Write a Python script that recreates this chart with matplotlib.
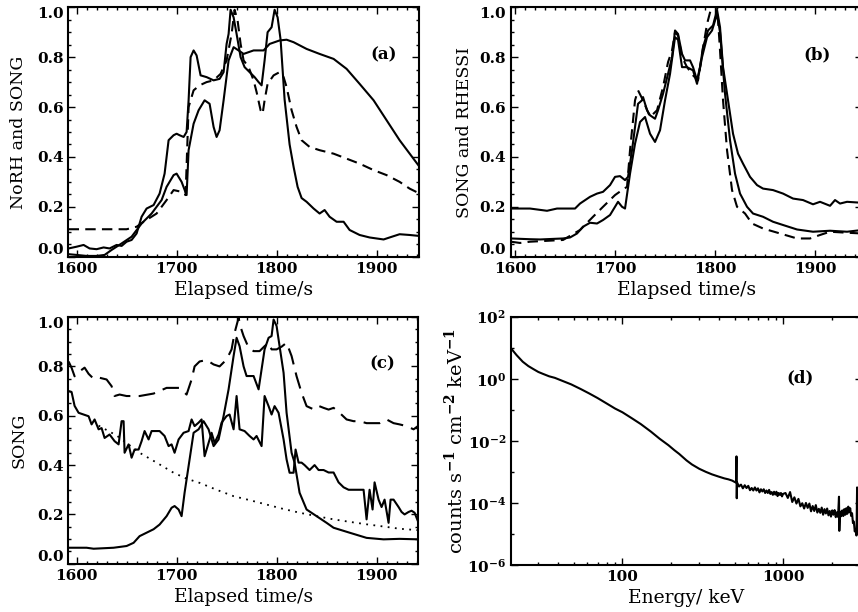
import matplotlib
matplotlib.use("Agg")
import matplotlib.pyplot as plt
from matplotlib.ticker import MultipleLocator, FixedLocator, NullFormatter
import numpy as np

plt.rcParams['font.family'] = ['DejaVu Serif']
plt.rcParams['font.weight'] = 'bold'
plt.rcParams['font.size'] = 11
plt.rcParams['mathtext.fontset'] = 'dejavuserif'
plt.rcParams['mathtext.default'] = 'bf'

# ---------------- panel (a): NoRH and SONG ----------------
a_jag_t = [1592, 1600, 1607, 1613, 1620, 1627, 1633, 1640, 1645, 1650, 1655, 1660, 1665, 1670,
           1677, 1683, 1688, 1692, 1697, 1700, 1703, 1707, 1710, 1712, 1714, 1717, 1720, 1724,
           1730, 1737, 1743, 1747, 1750, 1752, 1754, 1757, 1760, 1764, 1768, 1773, 1778, 1782,
           1785, 1788, 1791, 1795, 1798, 1801, 1804, 1808, 1813, 1817, 1821, 1825, 1830, 1837,
           1843, 1848, 1853, 1860, 1867, 1873, 1883, 1893, 1900, 1907, 1913, 1923, 1933, 1943]
a_jag_v = [0.033, 0.04, 0.047, 0.033, 0.03, 0.037, 0.033, 0.047, 0.043, 0.06, 0.067, 0.093, 0.16,
           0.193, 0.207, 0.253, 0.333, 0.467, 0.487, 0.493, 0.487, 0.48, 0.5, 0.627, 0.8, 0.827,
           0.807, 0.727, 0.72, 0.707, 0.713, 0.74, 0.853, 0.893, 0.99, 0.96, 0.893, 0.8, 0.76,
           0.74, 0.72, 0.70, 0.687, 0.787, 0.9, 0.92, 0.99, 0.96, 0.87, 0.63, 0.45, 0.36, 0.28,
           0.235, 0.22, 0.193, 0.173, 0.187, 0.16, 0.14, 0.14, 0.107, 0.087, 0.077, 0.073, 0.069,
           0.077, 0.09, 0.087, 0.083]

a_smo_t = [1592, 1600, 1610, 1620, 1628, 1635, 1645, 1655, 1665, 1675, 1685, 1690, 1697, 1700,
           1705, 1710, 1712, 1717, 1722, 1728, 1733, 1737, 1740, 1743, 1747, 1752, 1757, 1762,
           1767, 1777, 1787, 1793, 1803, 1810, 1817, 1830, 1843, 1857, 1870, 1883, 1897, 1910,
           1923, 1943]
a_smo_v = [0.01, 0.007, 0.003, 0.003, 0.007, 0.027, 0.053, 0.08, 0.133, 0.173, 0.227, 0.28,
           0.327, 0.333, 0.30, 0.247, 0.427, 0.533, 0.587, 0.627, 0.613, 0.52, 0.48, 0.507,
           0.627, 0.787, 0.84, 0.827, 0.813, 0.827, 0.827, 0.853, 0.867, 0.87, 0.86, 0.833,
           0.813, 0.793, 0.753, 0.693, 0.627, 0.547, 0.467, 0.36]

a_das_t = [1592, 1610, 1630, 1650, 1660, 1667, 1680, 1690, 1697, 1705, 1709, 1712, 1717, 1723,
           1730, 1737, 1744, 1750, 1755, 1758, 1761, 1764, 1767, 1772, 1777, 1780, 1784, 1786,
           1788, 1791, 1797, 1803, 1807, 1810, 1815, 1820, 1825, 1833, 1843, 1857, 1870, 1883,
           1897, 1910, 1923, 1933, 1943]
a_das_v = [0.11, 0.11, 0.11, 0.11, 0.12, 0.14, 0.173, 0.227, 0.267, 0.26, 0.247, 0.6, 0.667,
           0.687, 0.70, 0.707, 0.733, 0.787, 0.893, 0.99, 0.947, 0.853, 0.787, 0.76, 0.707, 0.66,
           0.587, 0.573, 0.627, 0.693, 0.727, 0.74, 0.72, 0.68, 0.587, 0.52, 0.467, 0.44, 0.427,
           0.413, 0.393, 0.373, 0.347, 0.327, 0.30, 0.273, 0.253]

# ---------------- panel (b): SONG and RHESSI ----------------
b_up_t = [1596, 1615, 1632, 1642, 1660, 1665, 1675, 1682, 1688, 1695, 1700, 1705, 1710, 1713,
          1717, 1720, 1723, 1727, 1728, 1732, 1735, 1740, 1743, 1748, 1753, 1757, 1760, 1763,
          1767, 1770, 1775, 1778, 1782, 1785, 1788, 1793, 1798, 1802, 1805, 1808, 1813, 1818,
          1823, 1828, 1835, 1842, 1848, 1858, 1868, 1878, 1888, 1898, 1905, 1915, 1920, 1925,
          1932, 1947]
b_up_v = [0.193, 0.193, 0.184, 0.193, 0.193, 0.213, 0.24, 0.253, 0.26, 0.287, 0.32, 0.323,
          0.307, 0.32, 0.427, 0.52, 0.613, 0.627, 0.64, 0.587, 0.567, 0.553, 0.587, 0.653,
          0.733, 0.80, 0.907, 0.893, 0.813, 0.787, 0.787, 0.76, 0.707, 0.76, 0.84, 0.907,
          0.927, 0.99, 0.92, 0.76, 0.627, 0.493, 0.413, 0.373, 0.32, 0.287, 0.273, 0.267,
          0.253, 0.233, 0.227, 0.21, 0.22, 0.204, 0.227, 0.213, 0.22, 0.216]

b_lo_t = [1596, 1615, 1625, 1648, 1655, 1662, 1668, 1675, 1682, 1688, 1695, 1700, 1703, 1707,
          1710, 1715, 1720, 1725, 1730, 1735, 1740, 1745, 1750, 1755, 1760, 1763, 1767, 1772,
          1778, 1782, 1787, 1792, 1797, 1802, 1805, 1810, 1815, 1820, 1825, 1832, 1838, 1848,
          1858, 1868, 1882, 1898, 1915, 1932, 1947]
b_lo_v = [0.073, 0.07, 0.069, 0.073, 0.077, 0.093, 0.12, 0.136, 0.133, 0.147, 0.167, 0.2, 0.22,
          0.2, 0.193, 0.333, 0.453, 0.54, 0.56, 0.493, 0.46, 0.507, 0.627, 0.733, 0.88, 0.87,
          0.76, 0.76, 0.747, 0.693, 0.80, 0.88, 0.907, 0.973, 0.9, 0.653, 0.467, 0.333, 0.253,
          0.2, 0.173, 0.16, 0.14, 0.127, 0.109, 0.1, 0.104, 0.1, 0.107]

b_das_t = [1596, 1605, 1615, 1648, 1665, 1678, 1688, 1700, 1707, 1712, 1715, 1720, 1723, 1728,
           1735, 1742, 1748, 1753, 1757, 1760, 1763, 1767, 1772, 1778, 1783, 1787, 1792, 1797,
           1802, 1805, 1808, 1812, 1817, 1822, 1830, 1837, 1848, 1865, 1882, 1895, 1905, 1915,
           1932, 1947]
b_das_v = [0.06, 0.055, 0.06, 0.067, 0.107, 0.16, 0.2, 0.247, 0.267, 0.28, 0.427, 0.627, 0.667,
           0.627, 0.56, 0.587, 0.68, 0.78, 0.827, 0.9, 0.887, 0.80, 0.76, 0.727, 0.707, 0.813,
           0.933, 1.01, 1.01, 0.827, 0.627, 0.427, 0.267, 0.2, 0.173, 0.133, 0.113, 0.093, 0.073,
           0.073, 0.087, 0.1, 0.096, 0.093]

# ---------------- panel (c): SONG ----------------
c_das_t = [1592, 1595, 1598, 1603, 1608, 1612, 1617, 1623, 1630, 1635, 1638, 1643, 1650, 1663,
           1677, 1690, 1703, 1710, 1715, 1718, 1723, 1730, 1737, 1743, 1750, 1755, 1758, 1762,
           1764, 1767, 1772, 1777, 1783, 1788, 1792, 1795, 1800, 1805, 1810, 1815, 1820, 1825,
           1830, 1837, 1842, 1847, 1852, 1857, 1863, 1870, 1877, 1883, 1890, 1903, 1910, 1917,
           1923, 1930, 1937, 1942]
c_das_v = [0.82, 0.794, 0.76, 0.78, 0.795, 0.77, 0.75, 0.754, 0.747, 0.72, 0.68, 0.686, 0.68,
           0.68, 0.69, 0.713, 0.713, 0.686, 0.747, 0.80, 0.82, 0.826, 0.808, 0.80, 0.828, 0.869,
           0.936, 0.997, 0.96, 0.923, 0.876, 0.862, 0.862, 0.882, 0.896, 0.869, 0.869, 0.88,
           0.896, 0.842, 0.76, 0.693, 0.639, 0.626, 0.64, 0.632, 0.625, 0.632, 0.612, 0.585,
           0.578, 0.578, 0.57, 0.57, 0.585, 0.57, 0.565, 0.558, 0.545, 0.56]

c_noi_t = [1592, 1595, 1598, 1602, 1607, 1612, 1615, 1618, 1622, 1625, 1628, 1633, 1638, 1642,
           1645, 1647, 1648, 1652, 1655, 1658, 1662, 1665, 1668, 1672, 1675, 1683, 1688, 1692,
           1695, 1698, 1702, 1707, 1712, 1715, 1718, 1722, 1725, 1728, 1732, 1735, 1738, 1742,
           1745, 1750, 1753, 1757, 1760, 1763, 1768, 1773, 1777, 1780, 1785, 1788, 1792, 1795,
           1798, 1802, 1807, 1810, 1813, 1817, 1819, 1822, 1825, 1828, 1833, 1838, 1842, 1847,
           1852, 1857, 1862, 1867, 1872, 1877, 1882, 1887, 1890, 1893, 1896, 1898, 1902, 1905,
           1908, 1912, 1914, 1917, 1922, 1925, 1928, 1932, 1935, 1938, 1942]
c_noi_v = [0.70, 0.696, 0.64, 0.612, 0.605, 0.598, 0.565, 0.585, 0.545, 0.55, 0.51, 0.524,
           0.497, 0.484, 0.578, 0.578, 0.45, 0.484, 0.43, 0.463, 0.463, 0.497, 0.538, 0.504,
           0.538, 0.538, 0.518, 0.477, 0.484, 0.45, 0.504, 0.531, 0.538, 0.585, 0.558, 0.572,
           0.585, 0.436, 0.49, 0.531, 0.49, 0.524, 0.572, 0.599, 0.605, 0.545, 0.68, 0.545,
           0.538, 0.518, 0.504, 0.518, 0.477, 0.68, 0.639, 0.605, 0.639, 0.612, 0.504, 0.423,
           0.369, 0.369, 0.463, 0.41, 0.41, 0.40, 0.38, 0.40, 0.38, 0.38, 0.37, 0.37, 0.33,
           0.31, 0.30, 0.30, 0.30, 0.30, 0.18, 0.30, 0.22, 0.33, 0.26, 0.23, 0.26, 0.166, 0.26,
           0.26, 0.23, 0.21, 0.20, 0.21, 0.215, 0.207, 0.166]

c_smo_t = [1592, 1610, 1617, 1637, 1650, 1657, 1663, 1670, 1677, 1683, 1690, 1695, 1698, 1702,
           1705, 1708, 1712, 1717, 1722, 1727, 1732, 1737, 1742, 1747, 1752, 1757, 1760, 1763,
           1767, 1770, 1777, 1782, 1785, 1788, 1792, 1795, 1797, 1800, 1803, 1807, 1810, 1815,
           1818, 1823, 1830, 1840, 1850, 1857, 1873, 1890, 1907, 1923, 1942]
c_smo_v = [0.065, 0.065, 0.061, 0.065, 0.072, 0.085, 0.112, 0.126, 0.14, 0.159, 0.193, 0.227,
           0.234, 0.22, 0.193, 0.288, 0.396, 0.531, 0.545, 0.578, 0.545, 0.477, 0.504, 0.599,
           0.707, 0.842, 0.916, 0.882, 0.80, 0.761, 0.761, 0.707, 0.788, 0.869, 0.916, 0.923,
           0.99, 0.964, 0.882, 0.774, 0.612, 0.45, 0.41, 0.288, 0.22, 0.193, 0.166, 0.146, 0.126,
           0.105, 0.099, 0.101, 0.099]

c_dot_t = [1622, 1640, 1663, 1680, 1697, 1710, 1723, 1740, 1757, 1773, 1790, 1807, 1823, 1840,
           1857, 1873, 1890, 1907, 1923, 1942]
c_dot_v = [0.56, 0.52, 0.45, 0.41, 0.369, 0.345, 0.328, 0.30, 0.274, 0.258, 0.24, 0.222, 0.207,
           0.193, 0.18, 0.17, 0.16, 0.151, 0.142, 0.136]

# ---------------- panel (d): RHESSI spectrum ----------------
d_energy = [20.3, 22, 24, 26, 28, 30, 32, 35, 38, 42, 48, 55, 62, 70, 80, 90, 100, 115, 130,
            150, 170, 193, 210, 225, 250, 270, 300, 330, 360, 395, 430, 455, 480, 500, 508,
            511, 513,
            515, 530, 545, 560, 575, 590, 605, 620, 635, 650, 665, 680, 695, 710, 725, 740,
            755, 770, 785, 800, 815, 830, 845, 860, 875, 890, 905, 920, 935, 950, 965, 980,
            995,
            1030, 1065, 1100, 1135, 1170, 1205, 1240, 1275, 1310, 1345, 1380, 1415, 1450,
            1485, 1520, 1555, 1590, 1625, 1660, 1695, 1730, 1765, 1800, 1835, 1870, 1905,
            1940, 1975, 2010, 2045, 2080, 2115, 2150, 2185, 2215, 2225, 2250, 2285, 2320,
            2355, 2390, 2425, 2460, 2495, 2530, 2565, 2600, 2635, 2670, 2705, 2740, 2775,
            2810, 2845, 2870, 2895]
d_logflux = [0.98, 0.76, 0.55, 0.41, 0.31, 0.22, 0.16, 0.08, 0.03, -0.06, -0.18, -0.33, -0.47,
             -0.62, -0.80, -0.96, -1.08, -1.28, -1.46, -1.70, -1.93, -2.14, -2.30, -2.42,
             -2.63, -2.76, -2.90, -3.00, -3.08, -3.15, -3.21, -3.24, -3.28, -3.33, -3.34,
             -2.50, -3.85,
             -3.34, -3.47, -3.41, -3.53, -3.43, -3.52, -3.45, -3.59, -3.52, -3.60, -3.50,
             -3.60, -3.53, -3.66, -3.56, -3.63, -3.56, -3.68, -3.60, -3.68, -3.58, -3.71,
             -3.65, -3.74, -3.64, -3.73, -3.64, -3.78, -3.68, -3.74, -3.68, -3.79, -3.71,
             -3.68, -3.84, -3.65, -3.97, -3.82, -4.02, -3.87, -4.11, -4.01, -4.18, -4.00,
             -4.16, -4.02, -4.27, -4.10, -4.26, -4.07, -4.31, -4.19, -4.32, -4.15, -4.38,
             -4.20, -4.34, -4.18, -4.40, -4.26, -4.44, -4.24, -4.38, -4.23, -4.46, -4.30,
             -4.45, -3.80, -4.90, -4.28, -4.43, -4.24, -4.42, -4.20, -4.38, -4.17, -4.35,
             -4.12, -4.30, -4.17, -4.42, -4.33, -4.65, -4.60, -4.92, -4.85, -5.05, -3.50,
             -5.00]

# Figura con cuatro paneles colocados a mano (b y d quedan cortados a la derecha)
fig = plt.figure(figsize=(8.58, 6.12), dpi=100)
ax_a = fig.add_axes([0.0796, 0.5806, 0.4091, 0.4075])
ax_b = fig.add_axes([0.5956, 0.5806, 0.4091, 0.4075])
ax_c = fig.add_axes([0.0796, 0.0788, 0.4079, 0.4031])
ax_d = fig.add_axes([0.5956, 0.0768, 0.4091, 0.4057])

lw = 1.5
dash = (0, (5, 3))


def style_time_axis(ax, xlim, ylabel, tag, tag_x, pad):
    ax.set_xlim(*xlim)
    ax.set_ylim(0, 1.0)
    ax.xaxis.set_major_locator(MultipleLocator(100))
    ax.xaxis.set_minor_locator(MultipleLocator(10))
    ax.set_yticks([0.0, 0.2, 0.4, 0.6, 0.8, 1.0])
    ax.set_yticklabels(["0.0", "0.2", "0.4", "0.6", "0.8", "1.0"])
    ax.yaxis.set_minor_locator(MultipleLocator(0.05))
    # etiquetas de los extremos metidas hacia dentro, como en el original
    yt = ax.yaxis.get_major_ticks()
    yt[0].label1.set_verticalalignment('bottom')
    yt[-1].label1.set_verticalalignment('top')
    ax.set_xlabel("Elapsed time/s", fontsize=13.5)
    ax.set_ylabel(ylabel, fontsize=12.5, labelpad=pad)
    ax.text(tag_x, 0.81, tag, transform=ax.transAxes, ha='center', va='center', fontsize=12)


for ax in (ax_a, ax_b, ax_c, ax_d):
    for sp in ax.spines.values():
        sp.set_linewidth(1.5)
    ax.tick_params(which='both', direction='in', top=True, right=True, width=1.0)
    ax.tick_params(which='major', length=5)
    ax.tick_params(which='minor', length=2.5)

# (a)
ax_a.plot(a_jag_t, a_jag_v, color='black', lw=lw)
ax_a.plot(a_smo_t, a_smo_v, color='black', lw=lw)
ax_a.plot(a_das_t, a_das_v, color='black', lw=lw, ls=dash)
style_time_axis(ax_a, (1591.7, 1942.7), "NoRH and SONG", "(a)", 0.897, 7)

# (b)
ax_b.plot(b_up_t, b_up_v, color='black', lw=lw)
ax_b.plot(b_lo_t, b_lo_v, color='black', lw=lw)
ax_b.plot(b_das_t, b_das_v, color='black', lw=lw, ls=dash)
style_time_axis(ax_b, (1596, 1947), "SONG and RHESSI", "(b)", 0.872, 5)

# (c)
ax_c.plot(c_das_t, c_das_v, color='black', lw=lw, ls=(0, (8, 4)))
ax_c.plot(c_noi_t, c_noi_v, color='black', lw=lw)
ax_c.plot(c_smo_t, c_smo_v, color='black', lw=lw)
ax_c.plot(c_dot_t, c_dot_v, color='black', lw=1.3, ls=(0, (1, 3)))
style_time_axis(ax_c, (1591.7, 1941.7), "SONG", "(c)", 0.897, 7)

# (d) espectro en escala log-log
ax_d.plot(d_energy, 10.0 ** np.array(d_logflux), color='black', lw=lw)
ax_d.set_xscale('log')
ax_d.set_yscale('log')
ax_d.set_xlim(20.3, 3080)
ax_d.set_ylim(1e-6, 1e2)
ax_d.yaxis.set_major_locator(FixedLocator([1e-6, 1e-4, 1e-2, 1e0, 1e2]))
ax_d.yaxis.set_minor_locator(FixedLocator([1e-5, 1e-3, 1e-1, 1e1]))
ax_d.yaxis.set_minor_formatter(NullFormatter())
ax_d.set_xticks([100, 1000])
ax_d.set_xticklabels(["100", "1000"])
ax_d.xaxis.set_minor_locator(FixedLocator([30, 40, 50, 60, 70, 80, 90, 200, 300, 400, 500,
                                           600, 700, 800, 900, 2000, 3000]))
ax_d.xaxis.set_minor_formatter(NullFormatter())
ax_d.set_xlabel("Energy/ keV", fontsize=13.5)
ax_d.set_ylabel(r"counts s$^{-1}$ cm$^{-2}$ keV$^{-1}$", fontsize=14, labelpad=0)
ax_d.text(0.823, 0.753, "(d)", transform=ax_d.transAxes, ha='center', va='center', fontsize=12)

fig.savefig("out.png", dpi=100)
